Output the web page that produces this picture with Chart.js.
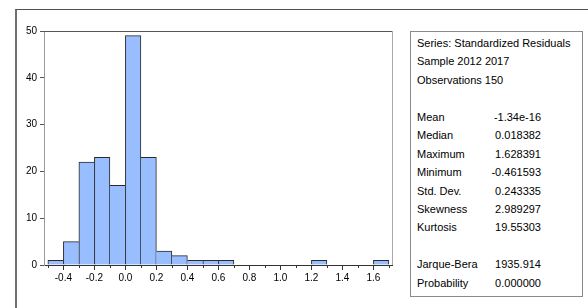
<!DOCTYPE html>
<html>
<head>
<meta charset="utf-8">
<script src="https://cdn.jsdelivr.net/npm/chart.js@4.4.1/dist/chart.umd.min.js"></script>
<style>
  body { margin: 0; width: 588px; height: 308px; overflow: hidden; background: #fff;
         font-family: "Liberation Sans", Arial, sans-serif; }
  #frame { position: absolute; left: 15px; top: 9px; width: 600px; height: 320px;
           border-left: 2px solid #707070; border-top: 1px solid #505050; }
  #wrap { position: absolute; left: 0; top: 0; width: 400px; height: 308px; }
  #stats { position: absolute; left: 410px; top: 31px; width: 173px; height: 266px;
           box-sizing: border-box; border: 1px solid #8a8a8a; padding-top: 2px;
           font-size: 11px; color: #000; }
  .row { position: relative; height: 18.45px; line-height: 18.45px; padding-left: 6px; white-space: nowrap; }
  .row .v { position: absolute; right: 41px; top: 0; }
</style>
</head>
<body>
<div id="frame"></div>
<div id="wrap"><canvas id="hist" width="400" height="308"></canvas></div>
<div id="stats"></div>

<script>
// histogram bins (width 0.1), centre of each bin
const binCenters = [-0.45, -0.35, -0.25, -0.15, -0.05, 0.05, 0.15, 0.25, 0.35, 0.45, 0.55,
                    0.65, 0.75, 0.85, 0.95, 1.05, 1.15, 1.25, 1.35, 1.45, 1.55, 1.65];
const counts = [1, 5, 22, 23, 17, 49, 23, 3, 2, 1, 1, 1, 0, 0, 0, 0, 0, 1, 0, 0, 0, 1];

const headerLines = ['Series: Standardized Residuals', 'Sample 2012 2017', 'Observations 150'];
const statLabels = ['Mean', 'Median', 'Maximum', 'Minimum', 'Std. Dev.', 'Skewness', 'Kurtosis'];
const statValues = ['-1.34e-16', '0.018382', '1.628391', '-0.461593', '0.243335', '2.989297', '19.55303'];
const testLabels = ['Jarque-Bera', 'Probability'];
const testValues = ['1935.914', '0.000000'];

// stats panel
const stats = document.getElementById('stats');
function addRow(label, value) {
  const row = document.createElement('div');
  row.className = 'row';
  row.textContent = label;
  if (value !== undefined) {
    const v = document.createElement('span');
    v.className = 'v';
    v.textContent = value;
    row.appendChild(v);
  }
  stats.appendChild(row);
}
headerLines.forEach(l => addRow(l));
addRow('\u00a0');
statLabels.forEach((l, i) => addRow(l, statValues[i]));
addRow('\u00a0');
testLabels.forEach((l, i) => addRow(l, testValues[i]));

const FONT = '"Liberation Sans", Arial, sans-serif';

// minor ticks on the x axis + top/right frame of the plot
const plotExtras = {
  id: 'plotExtras',
  afterDraw(chart) {
    const ctx = chart.ctx, x = chart.scales.x, area = chart.chartArea;
    ctx.save();
    ctx.lineWidth = 1;
    ctx.strokeStyle = '#333';
    for (let i = -5; i <= 17; i += 2) {
      const px = Math.round(x.getPixelForValue(i / 10)) + 0.5;
      ctx.beginPath();
      ctx.moveTo(px, area.bottom);
      ctx.lineTo(px, area.bottom + 3);
      ctx.stroke();
    }
    ctx.strokeStyle = '#555';
    ctx.beginPath();
    ctx.moveTo(area.left, Math.round(area.top) + 0.5);
    ctx.lineTo(area.right, Math.round(area.top) + 0.5);
    ctx.stroke();
    ctx.strokeStyle = '#aaa';
    ctx.beginPath();
    ctx.moveTo(Math.round(area.right) + 0.5, area.top);
    ctx.lineTo(Math.round(area.right) + 0.5, area.bottom);
    ctx.stroke();
    ctx.restore();
  }
};

function edgeWidths(ctx) {
  const i = ctx.dataIndex;
  const cur = counts[i];
  const prev = i > 0 ? counts[i - 1] : 0;
  const next = i < counts.length - 1 ? counts[i + 1] : 0;
  return { left: prev <= cur ? 1 : 0, top: 1, right: next < cur ? 1 : 0, bottom: 0 };
}

new Chart(document.getElementById('hist'), {
  type: 'bar',
  data: {
    datasets: [{
      data: binCenters.map((c, i) => ({ x: c, y: counts[i] > 0 ? counts[i] : null })),
      backgroundColor: 'rgb(153,190,255)',
      borderColor: '#2a2a2a',
      borderWidth: edgeWidths,
      borderSkipped: false,
      barPercentage: 1,
      categoryPercentage: 1
    }]
  },
  plugins: [plotExtras],
  options: {
    responsive: false,
    animation: false,
    layout: { padding: { top: 31, right: 8, bottom: 13, left: 0 } },
    plugins: { legend: { display: false }, tooltip: { enabled: false } },
    scales: {
      x: {
        type: 'linear',
        min: -0.525,
        max: 1.72,
        offset: false,
        afterFit: s => { s.height = 30; },
        border: { display: true, color: '#333', width: 1 },
        grid: { offset: false, drawOnChartArea: false, drawTicks: true, tickLength: 5, tickColor: '#333' },
        ticks: {
          stepSize: 0.2, includeBounds: false, padding: 2, autoSkip: false, maxRotation: 0,
          color: '#000', font: { family: FONT, size: 10 },
          callback: v => v.toFixed(1)
        }
      },
      y: {
        min: 0,
        max: 50,
        afterFit: s => { s.width = 44; },
        border: { display: true, color: '#9a9a9a', width: 1 },
        grid: { drawOnChartArea: false, tickLength: 4, tickColor: '#555' },
        ticks: { stepSize: 10, padding: 3, color: '#000', font: { family: FONT, size: 10 } }
      }
    }
  }
});
</script>
</body>
</html>
